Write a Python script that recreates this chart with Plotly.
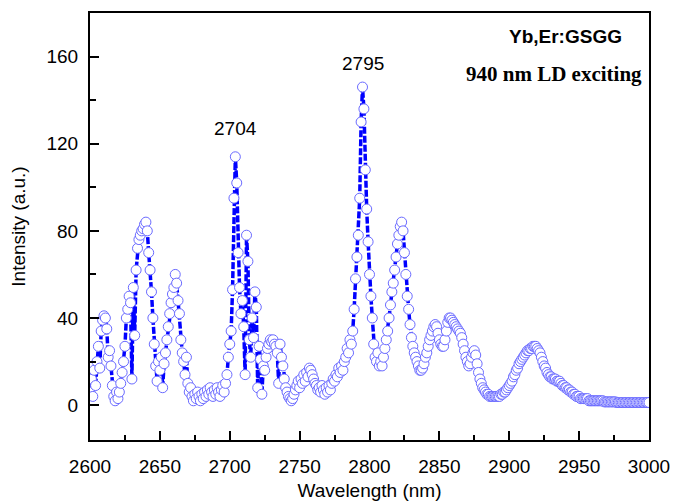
import plotly.graph_objects as go

# Wavelength grid (nm), 1 nm step
wavelength = list(range(2600, 3001))

# Intensity (a.u.), one row per 10 nm
intensity = (
    [6, 12, 4, 16, 9, 20, 27, 17, 34, 39] +          # 2600
    [41, 40, 35, 22, 25, 18, 9, 4, 2, 6] +            # 2610
    [3, 6, 10, 15, 20, 27, 40, 44, 50, 47] +          # 2620
    [12, 54, 32, 62, 72, 76, 78, 80, 81, 83] +        # 2630
    [84, 80, 70, 62, 52, 40, 28, 18, 11, 20] +        # 2640
    [16, 22, 8, 19, 24, 30, 36, 42, 47, 51] +         # 2650
    [54, 60, 56, 48, 42, 30, 24, 20, 14, 22] +        # 2660
    [10, 6, 8, 4, 2, 5, 3, 6, 4, 2] +                 # 2670
    [5, 3, 6, 4, 7, 5, 8, 6, 4, 7] +                  # 2680
    [5, 8, 6, 4, 7, 9, 6, 10, 14, 22] +               # 2690
    [28, 34, 53, 95, 114, 102, 70, 54, 42, 48] +      # 2700
    [36, 14, 78, 66, 30, 22, 40, 31, 52, 45] +        # 2710
    [8, 27, 21, 5, 18, 16, 22, 26, 28, 30] +          # 2720
    [29, 30, 28, 27, 24, 10, 28, 22, 18, 12] +        # 2730
    [8, 6, 4, 3, 2, 3, 5, 7, 9, 11] +                 # 2740
    [8, 12, 10, 14, 11, 15, 13, 17, 16, 14] +         # 2750
    [12, 10, 9, 7, 8, 6, 9, 7, 5, 8] +                # 2760
    [6, 9, 7, 10, 12, 11, 14, 13, 17, 15] +           # 2770
    [18, 16, 20, 22, 26, 24, 30, 28, 34, 44] +        # 2780
    [58, 68, 78, 95, 130, 146, 136, 108, 90, 75] +    # 2790
    [60, 50, 40, 28, 22, 20, 24, 18, 20, 18] +        # 2800
    [22, 26, 30, 34, 40, 46, 52, 56, 62, 68] +        # 2810
    [74, 78, 82, 84, 80, 70, 60, 50, 44, 37] +        # 2820
    [31, 27, 24, 22, 20, 18, 16, 16, 17, 19] +        # 2830
    [22, 24, 27, 30, 32, 34, 36, 37, 36, 33] +        # 2840
    [30, 28, 27, 27, 30, 34, 38, 40, 40, 39] +        # 2850
    [38, 37, 36, 35, 34, 33, 31, 28, 25, 22] +        # 2860
    [20, 18, 19, 22, 24, 25, 23, 19, 15, 12] +        # 2870
    [10, 8, 7, 6, 5, 5, 4, 4, 4, 4] +                 # 2880
    [4, 4, 4, 4, 5, 5, 6, 6, 7, 8] +                  # 2890
    [9, 10, 11, 13, 14, 16, 17, 19, 20, 21] +         # 2900
    [22, 23, 24, 25, 25, 26, 26, 27, 27, 27] +        # 2910
    [26, 25, 24, 22, 20, 18, 17, 15, 14, 13] +        # 2920
    [13, 12, 12, 12, 11, 11, 11, 10, 9, 9] +          # 2930
    [8, 8, 7, 7, 6, 6, 5, 5, 4, 4] +                  # 2940
    [4, 3, 3, 3, 3, 3, 3, 2, 2, 2] +                  # 2950
    [2, 2, 2, 2, 2, 2, 2, 2, 1.5, 1.5] +              # 2960
    [1.5, 1.5, 1.5, 1.5, 1.5, 1.5, 1.5, 1.2, 1.2, 1.2] +  # 2970
    [1.2, 1.2, 1.2, 1.2, 1.2, 1.2, 1.2, 1.2, 1.2, 1.2] +  # 2980
    [1.2, 1.2, 1.2, 1.2, 1.2, 1.2, 1.2, 1.2, 1.2, 1.2] +  # 2990
    [1.2]                                              # 3000
)

x_ticks = [2600, 2650, 2700, 2750, 2800, 2850, 2900, 2950, 3000]
y_ticks = [0, 40, 80, 120, 160]

peak_labels = ["2704", "2795"]
peak_x = [2704, 2795]
peak_y = [127, 157]

fig = go.Figure()
fig.add_trace(go.Scatter(
    x=wavelength, y=intensity, mode="lines+markers",
    line=dict(color="#0000ff", width=3.5, dash="7px,2px"),
    marker=dict(symbol="circle", size=10, color="white",
                line=dict(width=1, color="#6a6aff")),
    showlegend=False,
))

for t, px, py in zip(peak_labels, peak_x, peak_y):
    fig.add_annotation(x=px, y=py, text=t, showarrow=False,
                       font=dict(family="Liberation Sans, Arial", size=19, color="black"))

fig.add_annotation(x=2940, y=169, text="<b>Yb,Er:GSGG</b>", showarrow=False,
                   font=dict(family="Liberation Sans, Arial", size=19, color="black"))
fig.add_annotation(x=2932, y=152, text="<b>940 nm LD exciting</b>", showarrow=False,
                   font=dict(family="Liberation Serif, Times New Roman", size=21, color="black"))

axis_font = dict(family="Liberation Sans, Arial", size=19, color="black")

fig.update_layout(
    width=675, height=501,
    margin=dict(l=90, r=26, t=13, b=61),
    paper_bgcolor="white", plot_bgcolor="white",
    font=axis_font,
    xaxis=dict(
        range=[2600, 3000], tickvals=x_ticks, ticks="inside", ticklen=9,
        tickwidth=1.5, tickcolor="black",
        minor=dict(dtick=25, ticks="inside", ticklen=5, tickwidth=1.5, tickcolor="black"),
        showline=True, linecolor="black", linewidth=2, mirror=True,
        showgrid=False, zeroline=False, tickfont=axis_font,
        ticklabelstandoff=8, automargin=False,
        title=dict(text="Wavelength (nm)", font=axis_font, standoff=8),
    ),
    yaxis=dict(
        range=[-16, 180], tickvals=y_ticks, ticks="inside", ticklen=9,
        tickwidth=1.5, tickcolor="black",
        minor=dict(tickvals=[20, 60, 100, 140], ticks="inside", ticklen=6,
                   tickwidth=1.5, tickcolor="black"),
        showline=True, linecolor="black", linewidth=2, mirror=True,
        showgrid=False, zeroline=False, tickfont=axis_font,
        ticklabelstandoff=6, automargin=False,
        title=dict(text="Intensity (a.u.)", font=axis_font, standoff=16),
    ),
)

fig.write_html("out.html")
